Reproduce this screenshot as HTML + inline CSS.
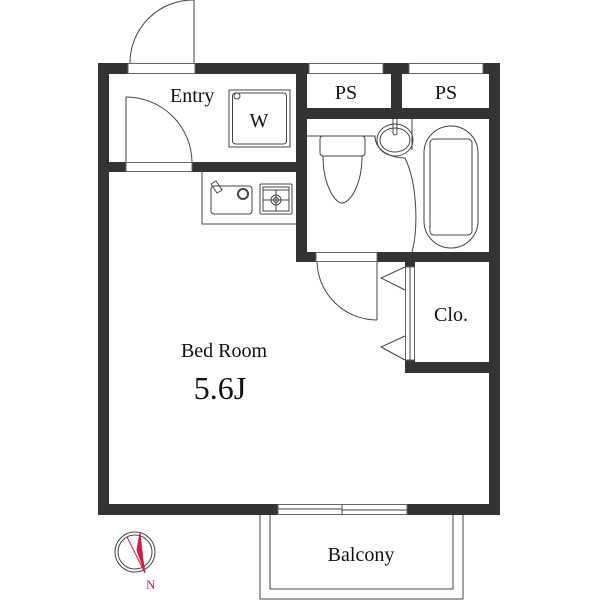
<!DOCTYPE html>
<html><head><meta charset="utf-8"><style>
html,body{margin:0;padding:0;background:#fff;width:600px;height:600px;overflow:hidden}
svg{display:block}
text{font-family:"Liberation Serif",serif;fill:#111}
</style></head><body>
<svg width="600" height="600" viewBox="0 0 600 600" xmlns="http://www.w3.org/2000/svg">
<g fill="#333" stroke="none">
<!-- outer walls -->
<rect x="98" y="63" width="402" height="11"/>
<rect x="98" y="63" width="11" height="452"/>
<rect x="489" y="63" width="11" height="452"/>
<rect x="98" y="504" width="402" height="11"/>
<!-- interior -->
<rect x="296" y="63" width="11" height="199"/>
<rect x="307" y="108" width="182" height="11"/>
<rect x="391" y="74" width="11" height="34"/>
<rect x="109" y="162" width="187" height="10"/>
<rect x="296" y="252" width="193" height="10"/>
<rect x="405" y="262" width="10" height="111"/>
<rect x="405" y="362" width="84" height="11"/>
</g>
<g fill="#fff" stroke="#666" stroke-width="1">
<!-- openings -->
<rect x="128" y="63.5" width="67" height="10"/>
<rect x="309" y="63.5" width="74" height="10"/>
<rect x="409" y="63.5" width="74" height="10"/>
<rect x="126" y="162.5" width="66" height="9"/>
<rect x="316" y="252.5" width="61" height="9"/>
<rect x="405.5" y="267" width="9" height="93"/>
<rect x="278" y="504.5" width="129" height="10"/>
</g>
<g fill="none" stroke="#444" stroke-width="1">
<line x1="278" y1="509" x2="342" y2="509"/>
<line x1="342" y1="510" x2="407" y2="510"/>
<line x1="342" y1="505" x2="342" y2="514"/>
<line x1="410" y1="267" x2="410" y2="360"/>
<!-- doors -->
<line x1="194" y1="0" x2="194" y2="63"/>
<path d="M194 0 A63 63 0 0 0 130 63"/>
<line x1="126" y1="97" x2="126" y2="162"/>
<path d="M126 97 A66 66 0 0 1 192 162"/>
<line x1="377" y1="262" x2="377" y2="320"/>
<path d="M317 262 A60 60 0 0 0 377 320"/>
<!-- closet triangles -->
<path d="M405 267 L381 278 L405 290"/>
<path d="M405 336 L381 347 L405 360"/>
<!-- washer -->
<rect x="229" y="90" width="61" height="57"/>
<rect x="232.5" y="93" width="54" height="51" rx="3"/>
<circle cx="237" cy="96" r="3"/>
<!-- kitchen -->
<polyline points="202,172 202,224 296,224"/>
<rect x="211" y="186" width="41" height="28" rx="3"/>
<circle cx="243" cy="194" r="5" stroke-width="2"/>
<path d="M211 184 l5 -3 l6 9 l-5 3 z"/>
<rect x="260" y="184" width="32" height="30" rx="1"/>
<rect x="263" y="187" width="26" height="24"/>
<line x1="263" y1="190" x2="289" y2="190"/>
<circle cx="276" cy="200" r="5"/><circle cx="276" cy="200" r="2.5"/>
<line x1="263" y1="200" x2="289" y2="200"/><line x1="276" y1="190" x2="276" y2="211"/>
<!-- bathroom -->
<path d="M307 136 L375 136 C375 150 390 158 405 158 C418 185 418 230 412 252"/>
<rect x="320" y="136" width="45" height="20" rx="3"/>
<path d="M323 156 C323 185 335 203 342 203 C350 203 362 185 362 156"/>
<ellipse cx="395" cy="140" rx="18" ry="16"/>
<ellipse cx="395" cy="140" rx="15" ry="12"/>
<path d="M393 119 L393 133 A2 2 0 0 0 397 133 L397 119"/>
<line x1="412" y1="119" x2="412" y2="150"/>
<rect x="424" y="126" width="54" height="122" rx="27"/>
<rect x="430" y="139" width="42" height="96" rx="4"/>
<!-- balcony -->
<polyline points="260,515 260,599 463,599 463,515"/>
<polyline points="270,515 270,589 453,589 453,515"/>
<!-- compass -->
<circle cx="135" cy="552" r="20"/>
<circle cx="135" cy="552" r="17"/>
</g>
<g stroke="#c8224a" fill="#c8224a" stroke-width="1">
<path d="M140 533 L143 560 L145 573 L137 550 Z"/>
<line x1="127" y1="537" x2="145" y2="573"/>
</g>
<text x="146" y="589" font-size="13" fill="#c8224a" style="fill:#c8224a">N</text>
<text x="170" y="102" font-size="20">Entry</text>
<text x="259" y="127" font-size="20" text-anchor="middle">W</text>
<text x="346" y="99" font-size="20" text-anchor="middle">PS</text>
<text x="446" y="99" font-size="20" text-anchor="middle">PS</text>
<text x="451" y="321" font-size="20" text-anchor="middle">Clo.</text>
<text x="224" y="357" font-size="20" text-anchor="middle">Bed Room</text>
<text x="220" y="399" font-size="32" text-anchor="middle">5.6J</text>
<text x="361" y="561" font-size="20" text-anchor="middle">Balcony</text>
</svg>
</body></html>
